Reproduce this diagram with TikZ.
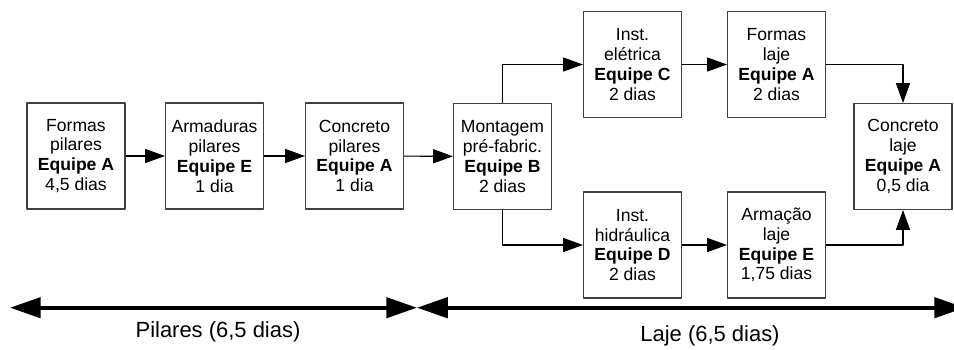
\documentclass[tikz,border=0pt]{standalone}
\usepackage{fontspec}
\setmainfont{Liberation Sans}
\usetikzlibrary{arrows.meta}
\tikzset{
	tarefa/.style={draw=black!75,line width=0.6pt,align=center,minimum width=1.96cm,minimum height=2.12cm,inner sep=0pt,font=\fontsize{10}{11.3}\selectfont},
	fluxo/.style={line width=0.6pt,-{Triangle[length=11.3pt,width=8pt]}},
	prazo/.style={line width=2.3pt,{Triangle[length=17.5pt,width=11.5pt]}-{Triangle[length=17.5pt,width=11.5pt]}},
	rotulo/.style={font=\fontsize{12.5}{14}\selectfont}
}
\begin{document}
\begin{tikzpicture}[x=0.02cm,y=0.02cm,line join=round]
	\useasboundingbox (0,0) rectangle (954,349);
	\clip (0,0) rectangle (954,349);
	
	% pilares
	\node[tarefa] (FP) at (76,193) {Formas\\pilares\\\textbf{Equipe A}\\4,5 dias};
	\node[tarefa] (AP) at (214.5,193) {Armaduras\\pilares\\\textbf{Equipe E}\\1 dia};
	\node[tarefa] (CP) at (354.5,193) {Concreto\\pilares\\\textbf{Equipe A}\\1 dia};
	
	% laje
	\node[tarefa] (MP) at (502.5,192.5) {Montagem\\pré-fabric.\\\textbf{Equipe B}\\2 dias};
	\node[tarefa] (IE) at (632.5,284.5) {Inst.\\elétrica\\\textbf{Equipe C}\\2 dias};
	\node[tarefa] (FL) at (776.5,284.5) {Formas\\laje\\\textbf{Equipe A}\\2 dias};
	\node[tarefa] (IH) at (632.5,104) {Inst.\\hidráulica\\\textbf{Equipe D}\\2 dias};
	\node[tarefa] (AL) at (776.5,104) {Armação\\laje\\\textbf{Equipe E}\\1,75 dias};
	\node[tarefa] (CL) at (903,192.5) {Concreto\\laje\\\textbf{Equipe A}\\0,5 dia};
	
	\draw[fluxo] (FP)--(AP);
	\draw[fluxo] (AP)--(CP);
	\draw[fluxo] (CP)--(MP);
	\draw[fluxo] (MP.north) |- (IE.west);
	\draw[fluxo] (MP.south) |- (IH.west);
	\draw[fluxo] (IE)--(FL);
	\draw[fluxo] (IH)--(AL);
	\draw[fluxo] (FL.east) -| (CL.north);
	\draw[fluxo] (AL.east) -| (CL.south);
	
	% duracoes
	\coordinate (P0) at (10,41.3);
	\coordinate (P1) at (417,41.3);
	\coordinate (L1) at (965,41.3);
	\draw[prazo] (P0)--(P1);
	\draw[prazo] (P1)--(L1);
	\node[rotulo] (PIL) at (218,17) {Pilares (6,5 dias)};
	\node[rotulo] (LAJ) at (710,13) {Laje (6,5 dias)};
\end{tikzpicture}
\end{document}
